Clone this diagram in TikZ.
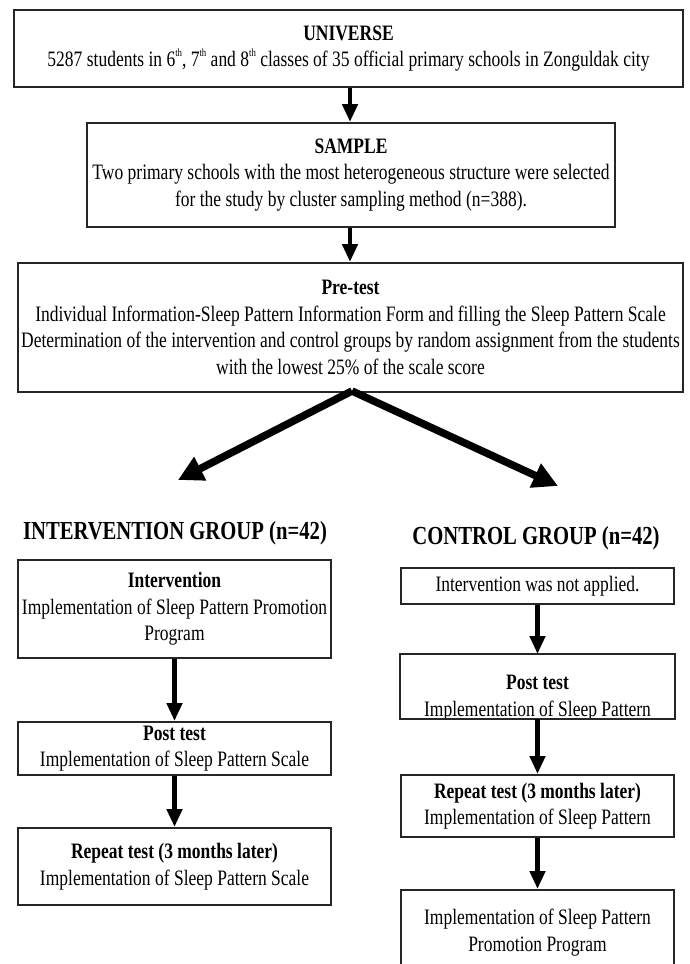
\documentclass[tikz,border=0pt]{standalone}
\usepackage{fontspec}
\setmainfont[FakeStretch=0.795]{Liberation Serif}
\usetikzlibrary{arrows.meta}
\newcommand{\supth}{\raisebox{1.05ex}{\fontsize{11}{11}\selectfont th}}
\tikzset{
  box/.style={draw=black!85, line width=2pt, fill=white, inner sep=0pt, align=center, font=\fontsize{22}{26.5}\selectfont},
  txt/.style={inner sep=0pt, font=\fontsize{22}{26.5}\selectfont},
  flow/.style={line width=4.5pt, -{Triangle[width=15pt,length=18pt]}},
  split/.style={line width=7.5pt, -{Triangle[width=25pt,length=25pt]}},
  grp/.style={font=\fontsize{26}{30}\selectfont\bfseries}
}
\begin{document}
\begin{tikzpicture}[x=1pt,y=-1pt]
\useasboundingbox (0,0) rectangle (690,964);
\fill[white] (0,0) rectangle (690,964);
% top chain
\node[box, minimum width=669pt, minimum height=77pt] (U) at (348.5,48.5)
  {\textbf{UNIVERSE}\\5287 students in 6\supth, 7\supth\ and 8\supth\ classes of 35 official primary schools in Zonguldak city};
\node[box, minimum width=528pt, minimum height=104pt] (S) at (351,175)
  {\textbf{SAMPLE}\\Two primary schools with the most heterogeneous structure were selected\\for the study by cluster sampling method (n=388).};
\node[box, minimum width=665pt, minimum height=129pt] (P) at (350.5,327.5)
  {\textbf{Pre-test}\\Individual Information-Sleep Pattern Information Form and filling the Sleep Pattern Scale\\Determination of the intervention and control groups by random assignment from the students\\with the lowest 25\% of the scale score};
\draw[flow] (U.south -| 350,0) -- (S.north -| 350,0);
\draw[flow] (S.south -| 350,0) -- (P.north -| 350,0);
% split
\coordinate (apex) at (352,391);
\coordinate (ltip) at (178,480);
\coordinate (rtip) at (558,486);
\draw[split] (apex) -- (ltip);
\draw[split] (apex) -- (rtip);
\node[grp] (IG) at (175,533) {INTERVENTION GROUP (n=42)};
\node[grp] (CG) at (536,538) {CONTROL GROUP (n=42)};
% left column
\node[box, minimum width=313pt, minimum height=98pt] (I1) at (174.5,609)
  {\textbf{Intervention}\\Implementation of Sleep Pattern Promotion\\Program};
\node[box, minimum width=313pt, minimum height=53pt] (I2) at (174.5,748.5)
  {\textbf{Post test}\\Implementation of Sleep Pattern Scale};
\node[box, minimum width=313pt, minimum height=77pt] (I3) at (174.5,866.5)
  {\textbf{Repeat test (3 months later)}\\Implementation of Sleep Pattern Scale};
\draw[flow] (I1) -- (I2);
\draw[flow] (I2) -- (I3);
% right column
\node[box, minimum width=273pt, minimum height=36pt] (C1) at (537.5,586)
  {Intervention was not applied.};
\node[box, draw=none, minimum width=273pt, minimum height=63pt] (C2) at (537.5,686.5) {};
\begin{scope}
  \clip (C2.north west) rectangle (C2.south east);
  \node[txt, anchor=base] (C2a) at (537.5,689) {\textbf{Post test}};
  \node[txt, anchor=base] (C2b) at (537.5,716) {Implementation of Sleep Pattern};
\end{scope}
\draw[draw=black!85, line width=2pt] (C2.north west) rectangle (C2.south east);
\node[box, minimum width=273pt, minimum height=62pt] (C3) at (537.5,806)
  {\textbf{Repeat test (3 months later)}\\Implementation of Sleep Pattern};
\node[box, minimum width=273pt, minimum height=85pt] (C4) at (537.5,932.5)
  {Implementation of Sleep Pattern\\Promotion Program};
\draw[flow] (C1) -- (C2);
\draw[flow] (C2) -- (C3);
\draw[flow] (C3) -- (C4);
\end{tikzpicture}
\end{document}
